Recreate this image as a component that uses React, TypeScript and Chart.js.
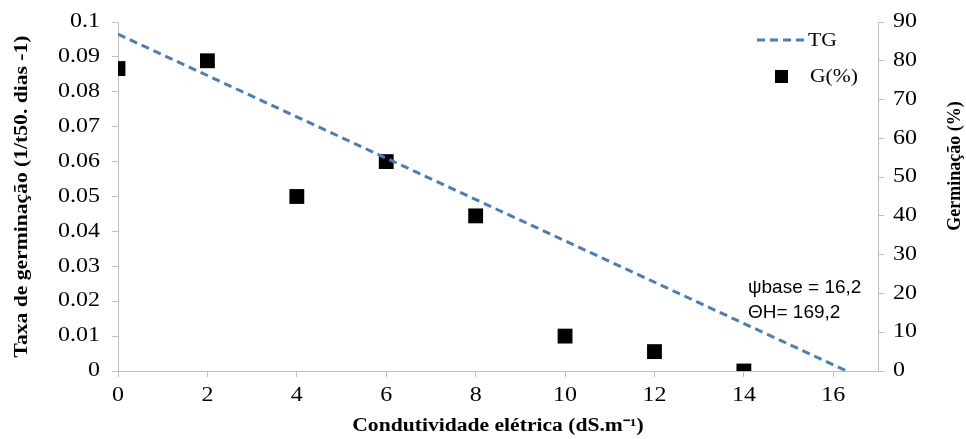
import React, { useEffect, useRef } from "react";
import { Chart, registerables } from "chart.js";

Chart.register(...registerables);

const condutividade = [0, 2, 4, 6, 8, 10, 12, 14];
const germinacao = [78, 80, 45, 54, 40, 9, 5, 0];
const tgX = [0, 16.3];
const tgY = [0.0965, 0];
const xTicks = [0, 2, 4, 6, 8, 10, 12, 14, 16];
const leftTicks = [0, 0.01, 0.02, 0.03, 0.04, 0.05, 0.06, 0.07, 0.08, 0.09, 0.1];
const rightTicks = [0, 10, 20, 30, 40, 50, 60, 70, 80, 90];
const annotationLines = ["ψbase = 16,2", "ΘH= 169,2"];
const xTitle = "Condutividade elétrica (dS.m⁻¹)";
const yTitle = "Taxa de germinação (1/t50. dias -1)";
const y2Title = "Germinação (%)";

const BLUE = "#4a7ebb";
const AXIS = "#bfbfbf";
const SERIF = "'Liberation Serif', 'Times New Roman', serif";
const SX = 1.2;

function txt(ctx: any, s: string, x: number, y: number, align: string, sx = SX, rot = 0) {
  ctx.save();
  ctx.translate(x, y);
  if (rot) ctx.rotate(rot);
  ctx.scale(sx, 1);
  ctx.textAlign = align;
  ctx.textBaseline = "middle";
  ctx.fillText(s, 0, 0);
  ctx.restore();
}

const overlay = {
  id: "overlay",
  afterDraw(chart: any) {
    const ctx = chart.ctx;
    const area = chart.chartArea;
    const sx = chart.scales.x;
    const sy = chart.scales.y;
    const sy2 = chart.scales.y2;
    ctx.save();
    ctx.fillStyle = "#000";
    // tick labels
    ctx.font = `20px ${SERIF}`;
    xTicks.forEach((v) => txt(ctx, String(v), sx.getPixelForValue(v), area.bottom + 25, "center"));
    leftTicks.forEach((v) =>
      txt(ctx, String(v), area.left - 18, sy.getPixelForValue(v), "right")
    );
    rightTicks.forEach((v) =>
      txt(ctx, String(v), area.right + 15, sy2.getPixelForValue(v), "left")
    );
    // axis titles
    ctx.font = `bold 18px ${SERIF}`;
    txt(ctx, xTitle, (area.left + area.right) / 2, area.bottom + 55, "center");
    txt(ctx, yTitle, 22, (area.top + area.bottom) / 2, "center", SX, -Math.PI / 2);
    txt(ctx, y2Title, 955, area.top + 144, "center", 1.0, -Math.PI / 2);
    // legend
    const lx = area.right - 121;
    const ly = area.top + 18;
    ctx.strokeStyle = BLUE;
    ctx.lineWidth = 3;
    ctx.setLineDash([8, 5]);
    ctx.beginPath();
    ctx.moveTo(lx, ly);
    ctx.lineTo(lx + 48, ly);
    ctx.stroke();
    ctx.setLineDash([]);
    ctx.font = `18px ${SERIF}`;
    txt(ctx, "TG", lx + 51, ly + 1, "left");
    ctx.fillRect(lx + 18, ly + 30, 13, 13);
    txt(ctx, "G(%)", lx + 53, ly + 37, "left");
    // annotation
    ctx.font = "19px 'Liberation Sans', Arial, sans-serif";
    txt(ctx, annotationLines[0], area.left + 630, area.top + 266, "left", 1.0);
    txt(ctx, annotationLines[1], area.left + 630, area.top + 291, "left", 1.0);
    ctx.restore();
  },
};

export default function App() {
  const ref = useRef<HTMLCanvasElement>(null);
  useEffect(() => {
    if (!ref.current) return;
    const gridOpts = {
      display: true,
      drawOnChartArea: false,
      drawTicks: true,
      tickLength: 6,
      tickColor: AXIS,
      color: AXIS,
    };
    const chart = new Chart(ref.current, {
      type: "scatter",
      data: {
        datasets: [
          {
            label: "TG",
            data: tgX.map((x, i) => ({ x, y: tgY[i] })),
            showLine: true,
            borderColor: BLUE,
            borderWidth: 3,
            borderDash: [8, 5],
            pointRadius: 0,
            yAxisID: "y",
          },
          {
            label: "G(%)",
            data: condutividade.map((x, i) => ({ x, y: germinacao[i] })),
            pointStyle: "rect",
            pointRadius: 10.5,
            backgroundColor: "#000",
            borderColor: "#000",
            borderWidth: 0,
            yAxisID: "y2",
          },
        ],
      },
      options: {
        responsive: false,
        animation: false,
        layout: { padding: { top: 22, left: 0, right: 0, bottom: 0 } },
        plugins: { legend: { display: false }, tooltip: { enabled: false } },
        scales: {
          x: {
            type: "linear",
            min: 0,
            max: 17,
            afterBuildTicks: (s: any) => {
              s.ticks = xTicks.map((v) => ({ value: v }));
            },
            afterFit: (s: any) => {
              s.height = 68;
            },
            grid: gridOpts,
            border: { color: AXIS, width: 1 },
            ticks: { display: false },
          },
          y: {
            position: "left",
            min: 0,
            max: 0.1,
            afterBuildTicks: (s: any) => {
              s.ticks = leftTicks.map((v) => ({ value: v }));
            },
            afterFit: (s: any) => {
              s.width = 118;
            },
            grid: gridOpts,
            border: { color: AXIS, width: 1 },
            ticks: { display: false },
          },
          y2: {
            position: "right",
            min: 0,
            max: 90,
            afterBuildTicks: (s: any) => {
              s.ticks = rightTicks.map((v) => ({ value: v }));
            },
            afterFit: (s: any) => {
              s.width = 88;
            },
            grid: gridOpts,
            border: { color: AXIS, width: 1 },
            ticks: { display: false },
          },
        },
      },
      plugins: [overlay],
    });
    return () => chart.destroy();
  }, []);
  return (
    <div style={{ position: "fixed", left: 0, top: 0, width: 966, height: 439, background: "#fff" }}>
      <canvas ref={ref} width={966} height={439} style={{ display: "block" }} />
    </div>
  );
}
